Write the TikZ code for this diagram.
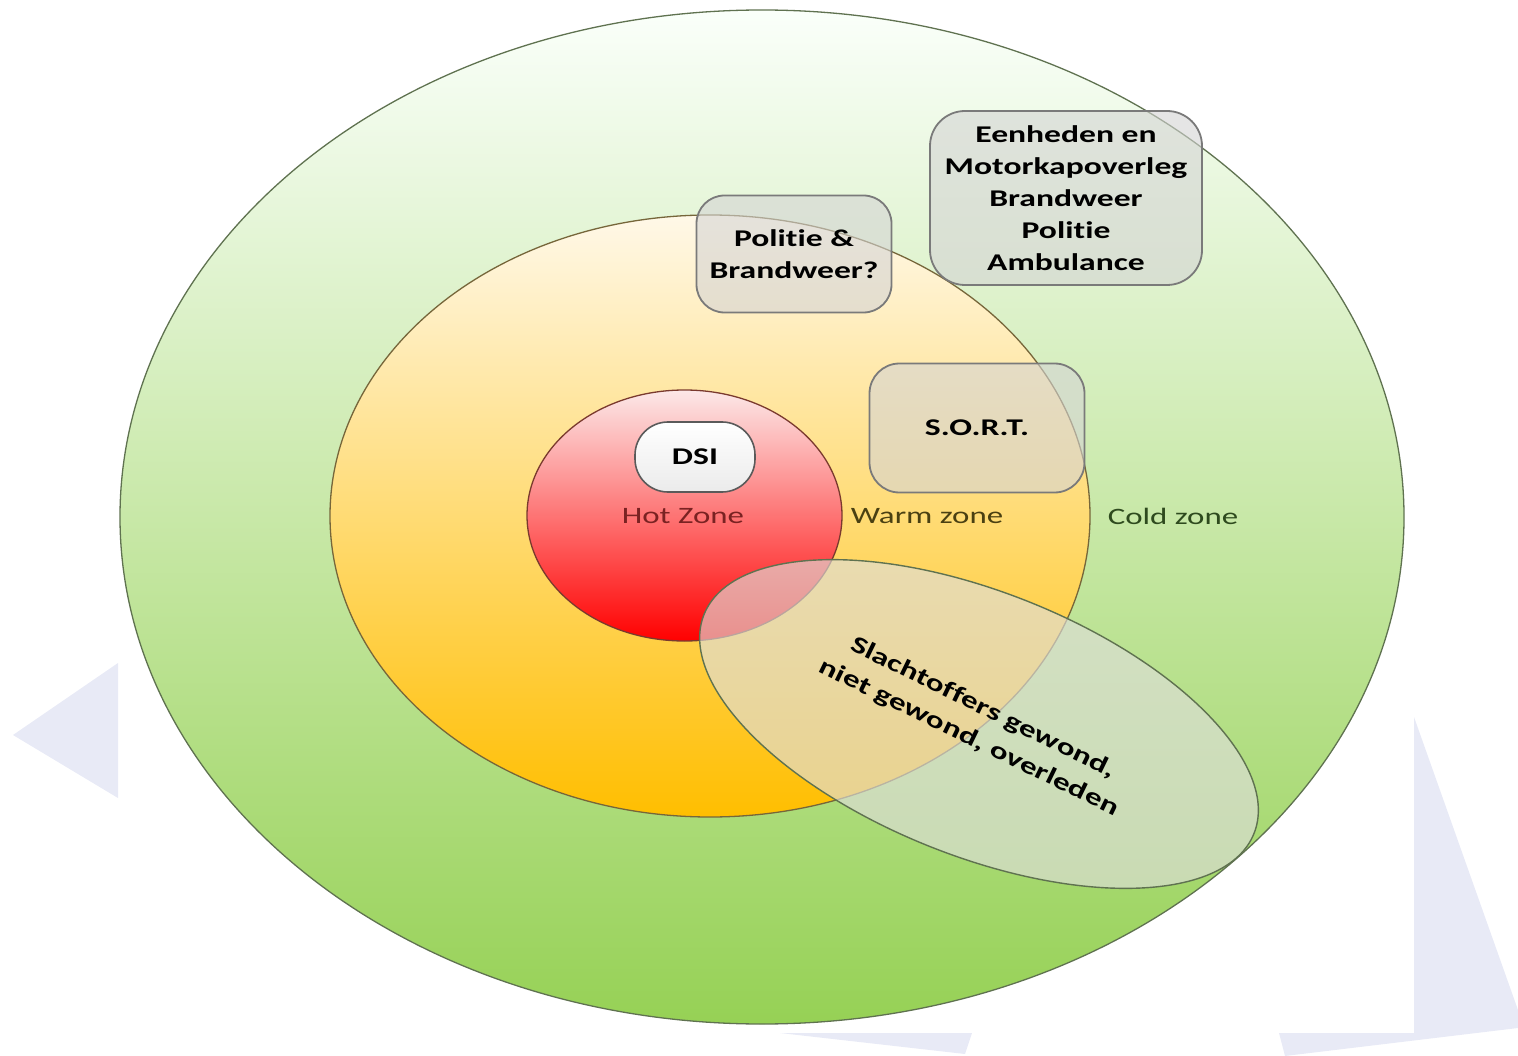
\documentclass[tikz,border=0pt]{standalone}
\usepackage{fontspec}
\setmainfont{Carlito}[FakeStretch=1.4, Ligatures={NoCommon}]
\usetikzlibrary{shapes.geometric}
\definecolor{bgtri}{HTML}{E8EAF6}
\definecolor{greenline}{HTML}{5F7250}
\definecolor{orangeline}{HTML}{76663A}
\definecolor{redline}{HTML}{7A3A2E}
\definecolor{boxline}{HTML}{7A7A7A}
\definecolor{boxfill}{HTML}{D4D4D4}
\definecolor{hottext}{HTML}{7A2222}
\definecolor{warmtext}{HTML}{4A4012}
\definecolor{coldtext}{HTML}{2E4A1E}
\begin{document}
\begin{tikzpicture}[x=1pt,y=-1pt,
  zone/.style={ellipse, inner sep=0pt, line width=1.3pt},
  zonelabel/.style={font=\fontsize{23.5}{28}\selectfont, inner sep=0pt},
  infobox/.style={draw=boxline, line width=1.8pt, fill=boxfill, fill opacity=0.6,
    text opacity=1, text=black, font=\bfseries\fontsize{24}{32}\selectfont,
    align=center, inner sep=0pt}]
\useasboundingbox (0,0) rectangle (1518,1056);
% background decorations
\fill[bgtri] (13,735) -- (118,663) -- (118,798) -- cycle;
\fill[bgtri] (1414,717) -- (1518,1010) -- (1518,1028) -- (1285,1056) -- (1279,1033) -- (1414,1033) -- cycle;
\fill[bgtri] (780,1033) -- (972,1033) -- (965,1054) -- cycle;
% zones
\node[zone, draw=greenline, minimum width=1284pt, minimum height=1014pt,
  top color=green!2!white, middle color={rgb,255:red,200;green,230;blue,168},
  bottom color={rgb,255:red,150;green,209;blue,85}] (cold) at (762,517) {};
\node[zone, draw=orangeline, minimum width=760pt, minimum height=602pt,
  top color={rgb,255:red,255;green,248;blue,232}, middle color={rgb,255:red,255;green,220;blue,120},
  bottom color={rgb,255:red,255;green,190;blue,0}] (warm) at (710,516) {};
\node[zone, draw=redline, minimum width=315pt, minimum height=251pt,
  top color={rgb,255:red,252;green,232;blue,232}, middle color={rgb,255:red,243;green,100;blue,100},
  bottom color={rgb,255:red,255;green,0;blue,0}] (hot) at (684.5,515.5) {};
% labels
\node[zonelabel, text=hottext] (hotlabel) at (683,516) {Hot Zone};
\node[zonelabel, text=warmtext] (warmlabel) at (927,516) {Warm zone};
\node[zonelabel, text=coldtext] (coldlabel) at (1173,516) {Cold zone};
% boxes
\node[draw={rgb,255:red,90;green,90;blue,90}, line width=1.6pt, rounded corners=33pt,
  top color=white, bottom color={rgb,255:red,235;green,235;blue,235},
  minimum width=120pt, minimum height=70pt, inner sep=0pt,
  font=\bfseries\fontsize{24}{28}\selectfont] (dsi) at (695,457) {DSI};
\node[infobox, rounded corners=28pt, minimum width=195pt, minimum height=117pt] (pb) at (794,254)
  {Politie \&\\Brandweer?};
\node[infobox, rounded corners=35pt, minimum width=272pt, minimum height=174pt] (eenh) at (1066,198)
  {Eenheden en\\Motorkapoverleg\\Brandweer\\Politie\\Ambulance};
\node[infobox, rounded corners=30pt, minimum width=215pt, minimum height=129pt] (sort) at (977,428)
  {S.O.R.T.};
% victims ellipse
\node[ellipse, inner sep=0pt, draw=greenline, line width=1.4pt, fill={rgb,255:red,222;green,222;blue,218},
  fill opacity=0.65, minimum width=592pt, minimum height=264pt, rotate=-21.7] (victims) at (979,724) {};
\node[rotate=-26, align=center, inner sep=0pt, text=black,
  font=\bfseries\fontsize{24}{33}\selectfont] (victimtext) at (976,723)
  {Slachtoffers gewond,\\niet gewond, overleden};
\end{tikzpicture}
\end{document}
